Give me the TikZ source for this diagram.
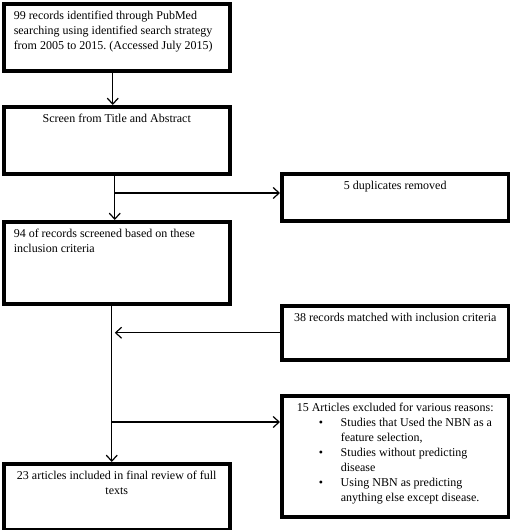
\documentclass[tikz,border=0pt]{standalone}
\usepackage{fontspec}
\setmainfont{Liberation Serif}
\usetikzlibrary{arrows.meta,positioning}

\tikzset{
	box/.style={draw, line width=3.5pt, anchor=north west, align=flush left,
		inner xsep=10pt, inner ysep=5pt, text height=11pt,
		font=\fontsize{12}{15}\selectfont\frenchspacing},
	link/.style={line width=1.2pt},
	arr/.style={link, -{Straight Barb[length=6pt,width=11pt]}}
}
\newcommand{\bul}{\makebox[49pt][l]{\hspace*{27pt}\textbullet}}
\newcommand{\bulskip}{\hspace*{49pt}}

\begin{document}
\begin{tikzpicture}[x=1pt,y=-1pt]
	\useasboundingbox (0,0) rectangle (509,530);
	\node[box,text width=206pt,text depth=46pt] (found) at (2,2) {99 records identified through PubMed\\searching using identified search strategy\\from 2005 to 2015. (Accessed July 2015)};
	\node[box,text width=206pt,text depth=46pt,align=flush center] (screen) at (2,105) {Screen from Title and Abstract};
	\node[box,text width=206pt,text depth=61pt] (kept) at (2,220) {94 of records screened based on these\\inclusion criteria};
	\node[box,text width=206pt,text depth=45pt,align=flush center] (included) at (2,462) {23 articles included in final review of full\\texts};
	\node[box,text width=207pt,text depth=26pt,align=flush center] (dupes) at (280,172) {5 duplicates removed};
	\node[box,text width=207pt,text depth=33pt,align=flush center] (matched) at (280,304) {38 records matched with inclusion criteria};
	\node[box,text width=207pt,text depth=100pt] (excluded) at (280,394) {\makebox[207pt][c]{15 Articles excluded for various reasons:}\\
		\bul Studies that Used the NBN as a\\
		\bulskip feature selection,\\
		\bul Studies without predicting\\
		\bulskip disease\\
		\bul Using NBN as predicting\\
		\bulskip anything else except disease.};
	% connectors
	\draw[arr] ([xshift=-4pt]found.south) -- ([xshift=-4pt]screen.north);
	\draw[arr] ([xshift=-2pt]screen.south) -- ([xshift=-2pt]kept.north);
	\coordinate (split) at ([xshift=-2pt]screen.south |- 0,193);
	\draw[arr] (split) -- (split -| dupes.west);
	\coordinate (trunk) at ([xshift=-5pt]kept.south);
	\draw[arr] (trunk) -- (trunk |- included.north);
	\coordinate (meet) at (trunk |- matched.west);
	\draw[arr] (matched.west) -- ([xshift=3pt]meet);
	\coordinate (fork) at (trunk |- 0,422);
	\draw[arr] (fork) -- (fork -| excluded.west);
\end{tikzpicture}
\end{document}
